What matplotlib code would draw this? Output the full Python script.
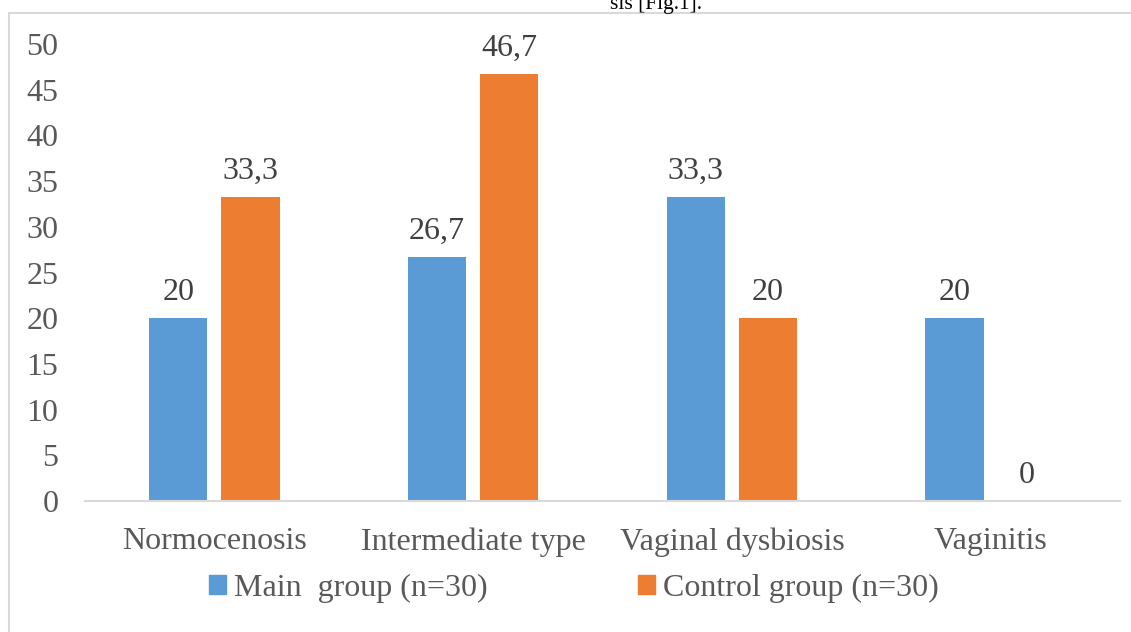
import numpy as np
import matplotlib.pyplot as plt
from matplotlib.patches import Rectangle, Patch

categories = ['Normocenosis', 'Intermediate type', 'Vaginal dysbiosis', 'Vaginitis']
main_group = [20, 26.7, 33.3, 20]
control_group = [33.3, 46.7, 20, 0]
series_names = ['Main  group (n=30)', 'Control group (n=30)']
yticks = [0, 5, 10, 15, 20, 25, 30, 35, 40, 45, 50]

blue = '#5B9BD5'
orange = '#ED7D31'
plt.rcParams['font.family'] = ['Liberation Serif', 'DejaVu Serif']

fig = plt.figure(figsize=(11.31, 6.32), dpi=100)
# outer chart frame (partly cut off like the screenshot)
fig.patches.append(Rectangle((9 / 1131, -0.05), 1.1, 1 - 13 / 632 + 0.05, transform=fig.transFigure,
                             fill=False, edgecolor='#d9d9d9', linewidth=1.5))
fig.text(0.58, 0.993, 'sis [Fig.1].', ha='center', va='center', fontsize=15.5, color='black')

ax = fig.add_axes([85 / 1131, 1 - 501 / 632, (1120 - 85) / 1131, (501 - 44) / 632])
x = np.arange(len(categories))
w = 0.225
off = 0.14
b1 = ax.bar(x - off, main_group, w, color=blue)
b2 = ax.bar(x + off, control_group, w, color=orange)

for bars, vals in ((b1, main_group), (b2, control_group)):
    for bar, v in zip(bars, vals):
        ax.annotate(('%g' % v).replace('.', ','), (bar.get_x() + bar.get_width() / 2, v),
                    xytext=(0, 8), textcoords='offset points', ha='center', va='bottom',
                    fontsize=23, color='#404040')

ax.set_xlim(-0.5, len(categories) - 0.5)
ax.set_ylim(0, 50)
ax.set_yticks(yticks)
ax.set_xticks(x)
ax.set_xticklabels(categories)
ax.tick_params(axis='both', length=0, labelsize=23, labelcolor='#595959')
ax.tick_params(axis='y', pad=19)
ax.tick_params(axis='x', pad=19)
for s in ['top', 'right', 'left']:
    ax.spines[s].set_visible(False)
ax.spines['bottom'].set_color('#d9d9d9')
ax.spines['bottom'].set_linewidth(1.5)

handles = [Patch(color=blue), Patch(color=orange)]
fig.legend(handles, series_names, loc='center', bbox_to_anchor=(574 / 1131, 1 - 588 / 632), ncol=2,
           frameon=False, fontsize=23, labelcolor='#595959', handlelength=0.53, handleheight=0.53,
           handletextpad=0.25, columnspacing=4.7)

fig.savefig('out.png', dpi=100)
